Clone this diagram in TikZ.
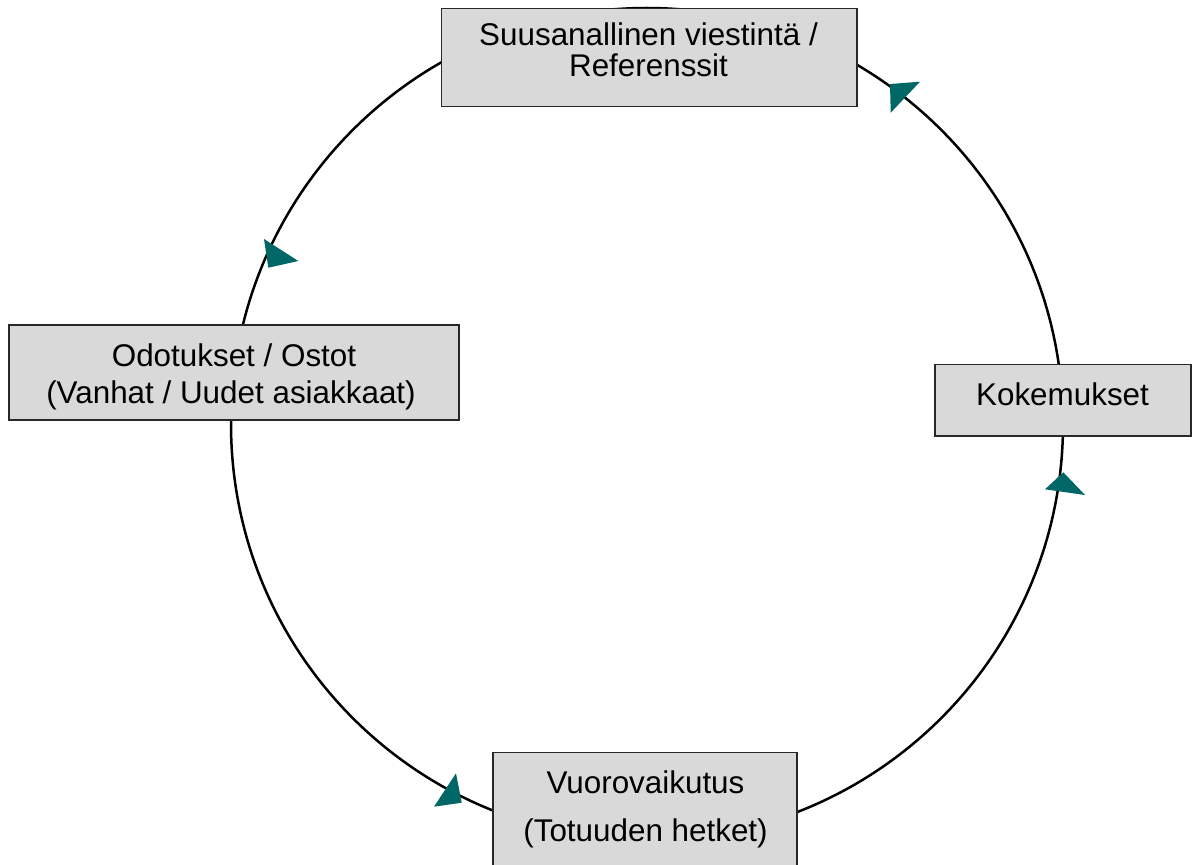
\documentclass[tikz,border=0pt]{standalone}
\usepackage{fontspec}
\setmainfont{Liberation Sans}
\definecolor{boxfill}{RGB}{217,217,217}
\definecolor{boxline}{RGB}{40,40,40}
\definecolor{teal}{RGB}{0,102,102}
\begin{document}
\begin{tikzpicture}[x=0.5pt,y=0.5pt,
  boxstyle/.style={draw=boxline, line width=0.75pt, fill=boxfill, rectangle, inner sep=0pt},
  txt/.style={inner sep=0pt, anchor=base, font=\fontsize{15.7}{18}\selectfont},
  ring/.style={draw=black, line width=1.25pt},
  headstyle/.style={fill=teal, draw=none}]
\clip (0,0) rectangle (1197,864);
\fill[white] (0,0) rectangle (1197,864);
% ring
\coordinate (c) at (647,440);
\draw[ring] (c) circle[radius=416];
% arrowheads
\fill[headstyle] (920,782.3) -- (890.7,751.3) -- (890,780) -- cycle;
\fill[headstyle] (1063.3,391.7) -- (1045,374.7) -- (1085,369) -- cycle;
\fill[headstyle] (264,625) -- (298.3,603) -- (268.3,596.3) -- cycle;
\fill[headstyle] (456,90.7) -- (434,57.3) -- (461.7,61.3) -- cycle;
% boxes
\node[boxstyle, minimum width=207.75pt, minimum height=49pt] (top) at (649.25,806.5) {};
\node[boxstyle, minimum width=225pt, minimum height=47.5pt] (left) at (234,491.5) {};
\node[boxstyle, minimum width=128pt, minimum height=35.75pt] (right) at (1063,463.75) {};
\node[boxstyle, minimum width=152pt, minimum height=61pt] (bottom) at (645,50.5) {};
% texts
\node[txt] (top1) at (648.5,818) {Suusanallinen viestintä /};
\node[txt] (top2) at (648.5,787.5) {Referenssit};
\node[txt] (left1) at (234,497.3) {Odotukset / Ostot};
\node[txt] (left2) at (231,460.7) {(Vanhat / Uudet asiakkaat)};
\node[txt] (right1) at (1062.5,459) {Kokemukset};
\node[txt] (bottom1) at (645.5,70.7) {Vuorovaikutus};
\node[txt] (bottom2) at (645.5,22.3) {(Totuuden hetket)};
\end{tikzpicture}
\end{document}
